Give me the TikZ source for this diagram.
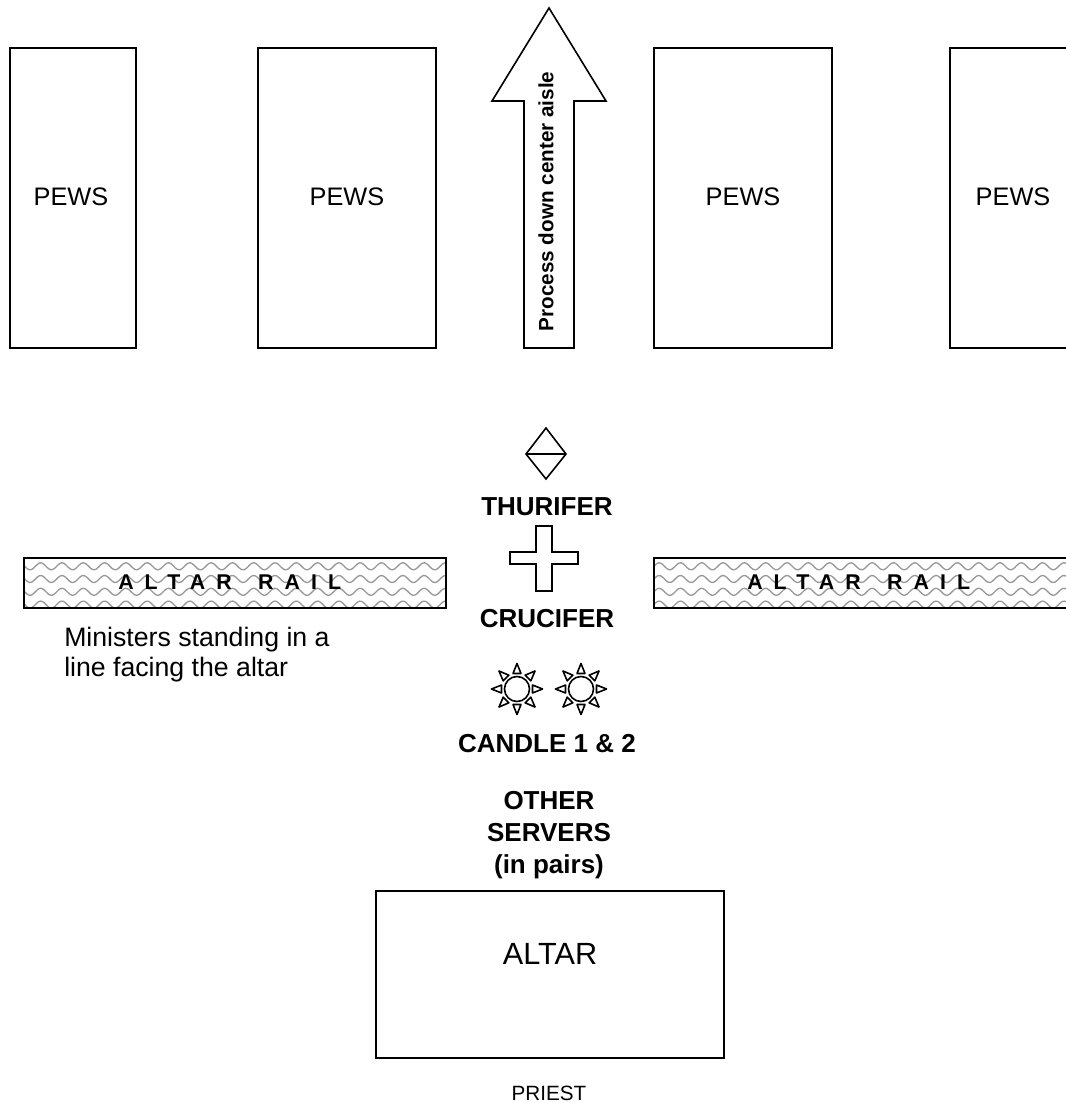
\documentclass[tikz,border=0pt]{standalone}
\usepackage{fontspec}
\setmainfont{Liberation Sans}
\newcommand{\railfont}{\addfontfeature{LetterSpace=52}}
\tikzset{
  x=0.75pt,y=-0.75pt,
  shape line/.style={draw=black,line width=1.2pt,line join=miter},
  pewbox/.style={shape line,fill=white},
  railbox/.style={draw=black,line width=1.6pt},
  wave/.style={draw=black!40,line width=1pt},
  lab/.style={inner sep=0pt,align=center,font=\fontsize{19pt}{24pt}\selectfont},
  blab/.style={inner sep=0pt,align=center,font=\fontsize{19.5pt}{24pt}\selectfont\bfseries},
  raillab/.style={inner sep=0pt,font=\fontsize{16pt}{18pt}\selectfont\bfseries\railfont},
}
\newcommand{\railwaves}[3]{%
  \begin{scope}
    \clip (#1,558) rectangle (#2,608);
    \foreach \yy in {553.5,566.3,579,591.8,604.6}{
      \draw[wave,line join=round] plot[domain=0:#2-#1,samples=260,variable=\t] ({#1+\t},{\yy+3.5*sin((\t-#3)*16.9-90)});
    }
  \end{scope}}
\newcommand{\sunrays}[2]{%
  \draw[shape line] (#1,#2) circle[radius=12.5];
  \foreach \a in {0,45,...,315}{
    \draw[shape line,line join=round] ({#1+15.5*cos(\a)-4*sin(\a)},{#2+15.5*sin(\a)+4*cos(\a)})
      -- ({#1+25.5*cos(\a)},{#2+25.5*sin(\a)})
      -- ({#1+15.5*cos(\a)+4*sin(\a)},{#2+15.5*sin(\a)-4*cos(\a)}) -- cycle;
  }}
\begin{document}
\begin{tikzpicture}
\useasboundingbox (0,0) rectangle (1066,1103);
\clip (0,0) rectangle (1066,1103);
% pews
\draw[pewbox] (10,48) rectangle (136,348);
\draw[pewbox] (258,48) rectangle (436,348);
\draw[pewbox] (654,48) rectangle (832,348);
\draw[pewbox] (950,48) rectangle (1085,348);
\node[lab] (pew1) at (71,197) {PEWS};
\node[lab] (pew2) at (347,197) {PEWS};
\node[lab] (pew3) at (743,197) {PEWS};
\node[lab] (pew4) at (1013,197) {PEWS};
% arrow
\draw[shape line] (549,8) -- (606,101) -- (574,101) -- (574,348) -- (524,348) -- (524,101) -- (492,101) -- cycle;
\node[inner sep=0pt,rotate=90,font=\fontsize{15.5pt}{17pt}\selectfont\bfseries] (aisle) at (546,201.5) {Process down center aisle};
% thurifer
\draw[shape line] (546,428) -- (566,454) -- (546,479) -- (526,454) -- cycle;
\draw[shape line] (526,454) -- (566,454);
\node[blab] (thurifer) at (547,507) {THURIFER};
% cross
\draw[shape line] (536,526) -- (552,526) -- (552,552) -- (578,552) -- (578,564) -- (552,564) -- (552,591) -- (536,591) -- (536,564) -- (510,564) -- (510,552) -- (536,552) -- cycle;
\node[blab] (crucifer) at (547,619) {CRUCIFER};
% rails
\railwaves{24}{446}{38}
\draw[railbox] (24,558) rectangle (446,608);
\node[raillab,anchor=west] (rail1) at (118,582) {ALTAR\hspace{7pt} RAIL};
\railwaves{654}{1066}{346}
\draw[railbox] (654,558) rectangle (1085,608);
\node[raillab,anchor=west] (rail2) at (747,582) {ALTAR\hspace{7pt} RAIL};
% ministers
\node[lab,align=left,anchor=west,font=\fontsize{20pt}{22.5pt}\selectfont] (min) at (64,655) {Ministers standing in a\\line facing the altar};
% candles
\sunrays{517}{689}
\sunrays{581}{689}
\node[blab] (candle) at (547,744) {CANDLE 1 \& 2};
\node[blab] (others) at (549,835.5) {OTHER\\SERVERS\\(in pairs)};
% altar
\draw[pewbox] (376,891) rectangle (724,1058);
\node[inner sep=0pt,font=\fontsize{23pt}{26pt}\selectfont] (altar) at (550,954) {ALTAR};
\node[inner sep=0pt,font=\fontsize{15.5pt}{18pt}\selectfont] (priest) at (549,1093) {PRIEST};
\end{tikzpicture}
\end{document}
